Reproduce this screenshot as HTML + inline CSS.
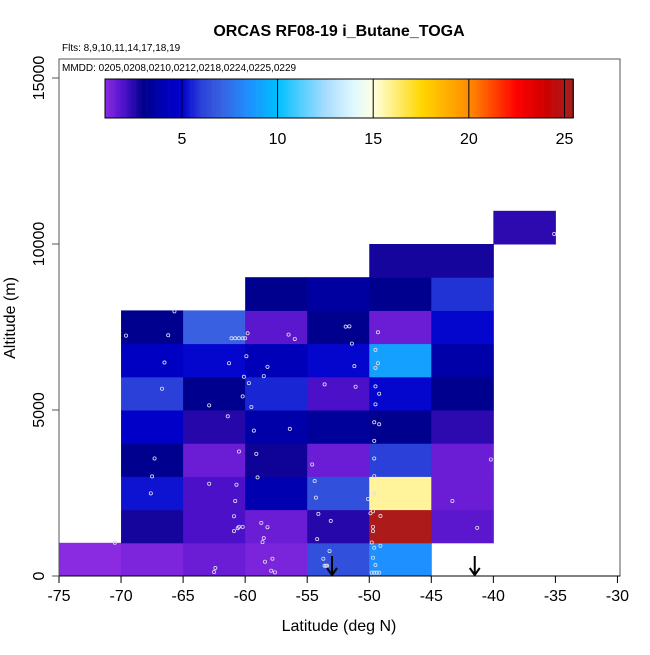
<!DOCTYPE html>
<html><head><meta charset="utf-8"><style>
body{margin:0;background:#fff;}
svg text{font-family:"Liberation Sans",sans-serif;}
</style></head><body>
<svg id="chart" width="650" height="650" xmlns="http://www.w3.org/2000/svg">
<text x="339" y="36" text-anchor="middle" font-size="16" font-weight="bold">ORCAS RF08-19 i_Butane_TOGA</text>
<text x="62" y="51" font-size="10">Flts: 8,9,10,11,14,17,18,19</text>
<g id="cells"></g>
<g id="points"></g>
<g id="arrows"></g>
<rect x="59" y="59" width="561" height="517" fill="none" stroke="#555" stroke-width="1"/>
<line x1="59" y1="576" x2="620" y2="576" stroke="#000"/>
<text x="62" y="71" font-size="10">MMDD: 0205,0208,0210,0212,0218,0224,0225,0229</text>
<g id="colorbar"></g>
<g id="xaxis"></g>
<g id="yaxis"></g>
<text x="339" y="631" text-anchor="middle" font-size="16">Latitude (deg N)</text>
<text transform="translate(15,318) rotate(-90)" text-anchor="middle" font-size="16">Altitude (m)</text>
</svg>
<script>
const latBins = [-75,-70,-65,-60,-55,-50,-45,-40,-35];
const altBins = [0,1000,2000,3000,4000,5000,6000,7000,8000,9000,10000];
const cellValues = [
 [1.0,1.2,1.5,1.25,6.5,8.5,null,null,null],
 [null,2.7,2.0,1.5,2.5,25.2,1.75,null,null],
 [null,5.3,2.0,3.9,6.5,15.8,1.5,null,null],
 [null,3.1,1.5,2.8,1.5,6.0,1.5,null,null],
 [null,4.8,2.5,3.7,3.4,3.1,2.4,null,null],
 [null,6.0,3.1,5.6,2.0,5.1,3.1,null,null],
 [null,4.6,5.1,4.2,5.1,9.0,3.7,null,null],
 [null,3.1,7.0,1.75,3.1,1.5,5.1,null,null],
 [null,null,null,3.1,3.5,3.1,5.8,null,null],
 [null,null,null,null,null,2.7,2.7,null,null],
 [null,null,null,null,null,null,null,2.4,null]
];
const ptLat = [-65.7,-69.6,-66.2,-61.1,-60.8,-60.5,-60.2,-60.0,-59.8,-56.5,-56.0,-51.9,-51.6,-51.4,-49.3,-66.5,-61.3,-59.9,-58.2,-60.1,-58.5,-51.2,-49.5,-49.3,-49.5,-66.7,-62.9,-60.2,-59.7,-59.5,-53.6,-51.1,-49.5,-49.2,-49.5,-61.4,-59.3,-56.4,-49.6,-49.2,-49.6,-67.3,-60.5,-59.1,-54.6,-49.6,-40.2,-67.5,-67.6,-62.9,-60.7,-59.0,-60.8,-54.4,-54.3,-49.6,-49.6,-50.1,-43.3,-60.9,-54.1,-53.1,-58.7,-58.2,-60.5,-60.2,-60.6,-60.9,-58.5,-58.6,-54.2,-49.9,-49.7,-49.1,-49.7,-49.7,-41.3,-70.5,-49.8,-49.6,-49.1,-53.2,-53.7,-53.6,-53.5,-53.4,-49.7,-49.5,-49.8,-49.6,-49.4,-49.2,-58.4,-57.8,-57.9,-57.6,-62.4,-62.5,-35.1];
const ptAlt = [7970,7240,7250,7160,7160,7160,7160,7160,7310,7270,7140,7510,7520,7000,7340,6430,6410,6620,6300,6000,6020,6320,6810,6410,6270,5640,5140,5410,5810,5090,5770,5700,5710,5490,5170,4810,4380,4430,4630,4570,4070,3540,3750,3680,3360,3540,3510,3000,2490,2780,2750,2970,2260,2860,2360,3010,2480,2320,2260,1800,1870,1660,1600,1470,1480,1480,1440,1350,1140,1020,1110,1890,1950,1810,1480,1350,1450,1000,1010,850,910,750,520,310,310,310,550,330,100,100,100,100,430,520,160,110,240,120,10300];
const arrowLat = [-53,-41.5];
const xTicks = [-75,-70,-65,-60,-55,-50,-45,-40,-35,-30];
const yTicks = [0,5000,10000,15000];
const cbTicks = [5,10,15,20,25];

const X = v => 59 + (v + 75) * 12.41;
const Y = v => 576 - v * 0.0332;
const CB = v => 105 + (v - 0.98) * 19.13;
const stops = [[0.98,[0x8b,0x2b,0xe2]],[2,[0x4b,0x10,0xc8]],[3,[0,0,0x8b]],[4,[0,0,0xb4]],[5,[0,0,0xcd]],[6,[0x2a,0x40,0xd8]],[7,[0x38,0x60,0xe0]],[8.5,[0x1e,0x90,0xff]],[10,[0,0xbf,0xff]],[12.5,[0xa8,0xdc,0xff]],[14,[0xe0,0xf8,0xff]],[15,[0xff,0xff,0xe0]],[16,[0xff,0xf0,0x8a]],[17.5,[0xff,0xd7,0]],[20,[0xff,0x8c,0]],[22.5,[0xff,0,0]],[24,[0xcd,0,0]],[25.45,[0xa5,0x1f,0x1f]]];
function col(v){
  for(let i=0;i<stops.length-1;i++){
    const [a,ca]=stops[i],[b,cb]=stops[i+1];
    if(v<=b||i===stops.length-2){
      const t=Math.max(0,Math.min(1,(v-a)/(b-a)));
      return 'rgb('+ca.map((c,k)=>Math.round(c+(cb[k]-c)*t)).join(',')+')';
    }
  }
}
const NS='http://www.w3.org/2000/svg';
function mk(tag,attrs,parent){const e=document.createElementNS(NS,tag);for(const k in attrs)e.setAttribute(k,attrs[k]);parent.appendChild(e);return e;}

const gc=document.getElementById('cells');
altBins.forEach((a,r)=>{
  cellValues[r].forEach((v,c)=>{
    if(v===null) return;
    const x0=X(latBins[c]),x1=X(latBins[c]+5),y0=Y(a+1000),y1=Y(a);
    const e=mk('rect',{x:x0,y:y0,width:x1-x0+0.5,height:y1-y0+0.5,fill:col(v)},gc);
    
    
  });
});
const gp=document.getElementById('points');
ptLat.forEach((la,i)=>{
  const e=mk('circle',{cx:X(la),cy:Y(ptAlt[i]),r:1.6,fill:'none',stroke:'#dde',"stroke-width":0.8},gp);
  
  
});
const ga=document.getElementById('arrows');
arrowLat.forEach(la=>{
  const x=X(la);
  const g=mk('g',{},ga);
  
  
  mk('line',{x1:x,y1:556,x2:x,y2:575,stroke:'#000','stroke-width':2},g);
  mk('polyline',{points:(x-5)+',568 '+x+',575 '+(x+5)+',568',fill:'none',stroke:'#000','stroke-width':2},g);
});
const gcb=document.getElementById('colorbar');
for(let v=0.98;v<25.45;v+=0.1){
  mk('rect',{x:CB(v),y:79,width:2.2,height:39,fill:col(v+0.05)},gcb);
}
const f=mk('rect',{x:105,y:79,width:CB(25.45)-105,height:39,fill:'none',stroke:'#000'},gcb);


cbTicks.forEach(t=>{
  mk('line',{x1:CB(t),y1:79,x2:CB(t),y2:118,stroke:'#000'},gcb);
  const tx=mk('text',{x:CB(t),y:144,'text-anchor':'middle','font-size':16},gcb);
  tx.textContent=t;
  
  
});
const gx=document.getElementById('xaxis');
xTicks.forEach(t=>{
  mk('line',{x1:X(t),y1:576,x2:X(t),y2:583,stroke:'#000'},gx);
  const tx=mk('text',{x:X(t),y:601,'text-anchor':'middle','font-size':16},gx);
  tx.textContent=t;
  
  
});
const gy=document.getElementById('yaxis');
yTicks.forEach(t=>{
  mk('line',{x1:52,y1:Y(t),x2:59,y2:Y(t),stroke:'#555'},gy);
  const tx=mk('text',{transform:'translate(44,'+Y(t)+') rotate(-90)','text-anchor':'middle','font-size':16},gy);
  tx.textContent=t;
  
  
});
</script>
</body></html>
